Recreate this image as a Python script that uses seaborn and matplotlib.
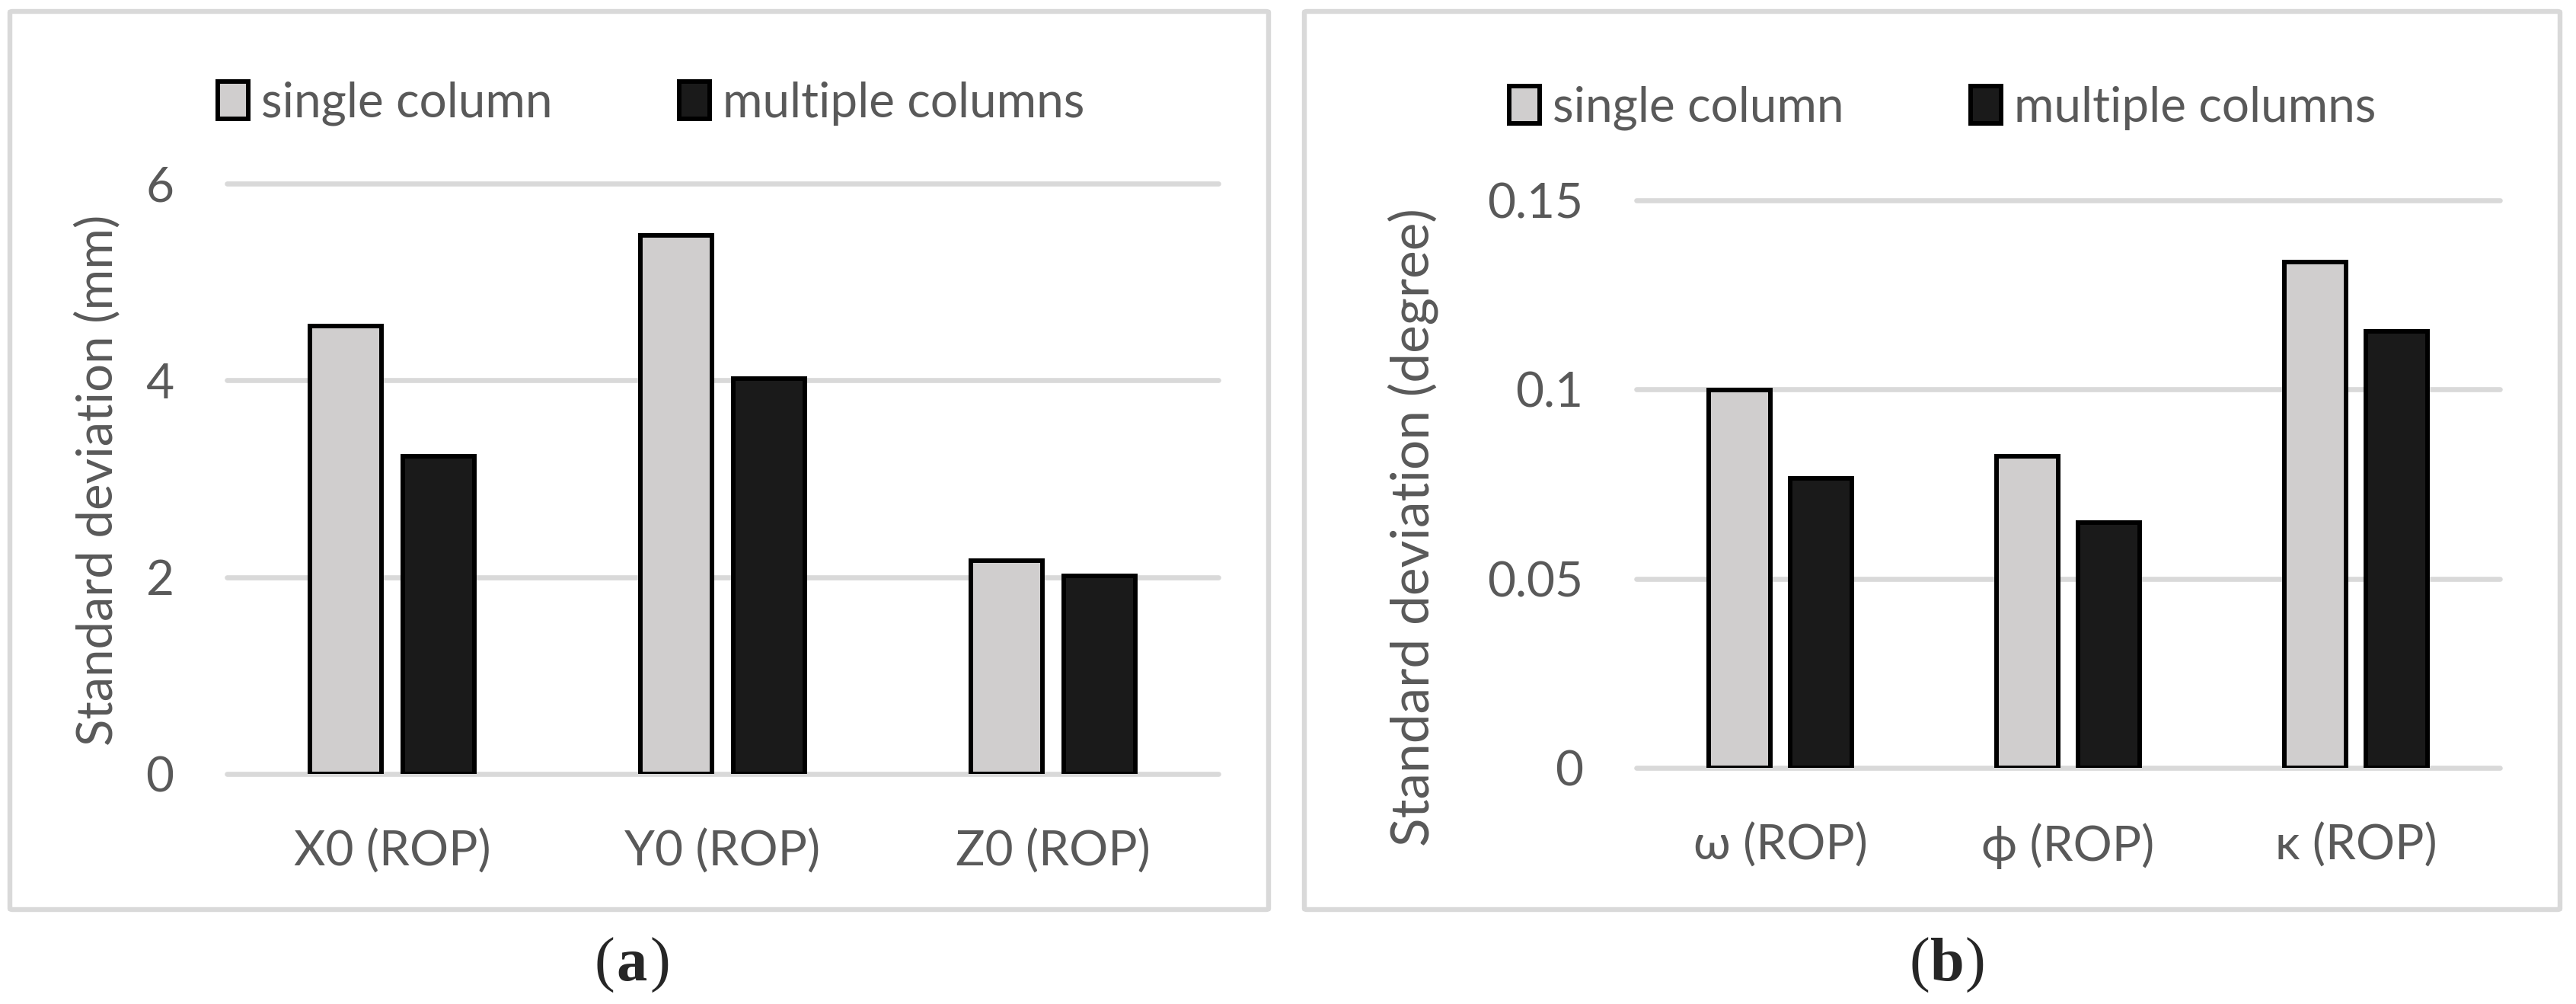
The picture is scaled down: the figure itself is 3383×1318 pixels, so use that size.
import pandas as pd
import matplotlib.pyplot as plt
import seaborn as sns
from matplotlib.patches import FancyBboxPatch

# data
methods = ["single column", "multiple columns"]
cats_a = ["X0 (ROP)", "Y0 (ROP)", "Z0 (ROP)"]
single_a = [4.55, 5.47, 2.17]
multi_a = [3.23, 4.02, 2.01]
ticks_a = [0, 2, 4, 6]
ticklabels_a = ["0", "2", "4", "6"]

cats_b = ["ω (ROP)", "ϕ (ROP)", "κ (ROP)"]
single_b = [0.0998, 0.0824, 0.1336]
multi_b = [0.0766, 0.0649, 0.1153]
ticks_b = [0, 0.05, 0.1, 0.15]
ticklabels_b = ["0", "0.05", "0.1", "0.15"]

sns.set_style("white")
plt.rcParams["font.family"] = ["Lato", "DejaVu Sans"]

TXT = "#595959"
GRID = "#D9D9D9"
palette = ["#D0CECE", "#1A1A1A"]

W, H = 3383, 1318
fig = plt.figure(figsize=(W / 100, H / 100), dpi=100)


def long_df(cats, s, m):
    return pd.DataFrame({
        "param": cats + cats,
        "value": s + m,
        "method": [methods[0]] * len(cats) + [methods[1]] * len(cats),
    })


def panel(rect, df, ticks, labels, ylabel, ylsize, lab_xy, leg_xy, box, cap_x, cap):
    ax = fig.add_axes(rect)
    sns.barplot(data=df, x="param", y="value", hue="method", palette=palette,
                width=0.566, gap=0.235, edgecolor="black", linewidth=4.3,
                errorbar=None, ax=ax, zorder=3)
    ax.set_xlim(-0.5, 2.5)
    ax.set_ylim(ticks[0], ticks[-1])
    ax.set_yticks(ticks)
    ax.set_yticklabels(labels)
    ax.grid(axis="y", color=GRID, linewidth=4.8)
    ax.grid(axis="x", visible=False)
    for gl in ax.get_ygridlines():
        gl.set_clip_on(False)
    ax.set_axisbelow(True)
    sns.despine(ax=ax, left=True, bottom=True)
    ax.tick_params(axis="both", length=0, labelsize=46, colors=TXT)
    ax.tick_params(axis="y", pad=50)
    ax.tick_params(axis="x", pad=52)
    ax.set_xlabel("")
    ax.set_ylabel(ylabel, fontsize=ylsize, color=TXT, va="center")
    ax.yaxis.set_label_coords(*lab_xy)

    h, l = ax.get_legend_handles_labels()
    ax.get_legend().remove()
    fig.legend(h, l, loc="center", bbox_to_anchor=leg_xy, ncol=2, frameon=False,
               fontsize=46, labelcolor=TXT, handlelength=0.63, handleheight=0.8,
               handletextpad=0.27, columnspacing=2.6)

    x0, y0, x1, y1 = box
    fig.patches.append(FancyBboxPatch((x0 / W, 1 - y1 / H), (x1 - x0) / W, (y1 - y0) / H,
                                      boxstyle="round,pad=0,rounding_size=0.001",
                                      transform=fig.transFigure, fill=False,
                                      edgecolor=GRID, linewidth=4.6))

    cy = 1 - 1267 / H
    serif = ["Liberation Serif", "DejaVu Serif"]
    fig.text(cap_x / W, cy, cap, ha="center", va="center", fontsize=58,
             fontweight="bold", family=serif)
    fig.text((cap_x - 23) / W, cy, "(", ha="right", va="center", fontsize=58, family=serif)
    fig.text((cap_x + 23) / W, cy, ")", ha="left", va="center", fontsize=58, family=serif)
    return ax


panel([298 / W, 1 - 1016 / H, 1302 / W, 775 / H], long_df(cats_a, single_a, multi_a),
      ticks_a, ticklabels_a, "Standard deviation (mm)", 47, (-0.1306, 0.497),
      (855 / W, 1 - 136 / H), (13, 15, 1666, 1194), 830, "a")
panel([2149 / W, 1 - 1008 / H, 1134 / W, 745 / H], long_df(cats_b, single_b, multi_b),
      ticks_b, ticklabels_b, "Standard deviation (degree)", 50, (-0.259, 0.424),
      (2551 / W, 1 - 142 / H), (1713, 15, 3362, 1194), 2557, "b")

fig.savefig("out.png", dpi=100)
